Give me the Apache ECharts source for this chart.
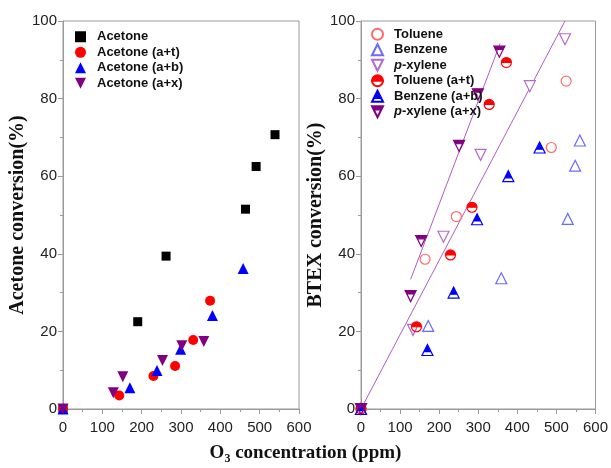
<!DOCTYPE html>
<html>
<head>
<meta charset="utf-8">
<script src="https://cdn.jsdelivr.net/npm/echarts@6/dist/echarts.min.js"></script>
<style>
html, body { margin: 0; padding: 0; background: #fff; }
#main { width: 611px; height: 468px; }
</style>
</head>
<body>
<div id="main"></div>
<script>
// left panel: acetone conversion vs O3 concentration
var acetone    = [[0, 0], [190, 22.5], [262, 39.4], [464, 51.5], [491, 62.5], [539, 70.7]];
var acetoneAT  = [[0, 0], [143, 3.5], [230, 8.5], [285, 11.1], [331, 17.8], [374, 27.9]];
var acetoneAB  = [[0, 0], [170, 5.5], [239, 9.9], [299, 15.4], [380, 24.1], [458, 36.2]];
var acetoneAX  = [[0, 0], [128, 4.2], [152, 8.3], [253, 12.5], [302, 16.3], [358, 17.4]];

// right panel: BTEX conversion
var toluene    = [[0, 0], [164, 38.6], [244, 49.6], [487, 67.4], [525, 84.5]];
var benzene    = [[0, 0], [172, 21.4], [359, 33.7], [529, 49], [548, 62.7], [560, 69.2]];
var pxylene    = [[0, 0], [133, 20.4], [211, 44.4], [306, 65.5], [432, 83.2], [522, 95.3]];
var tolueneAT  = [[0, 0], [142, 21.2], [229, 39.7], [284, 52], [328, 78.5], [372, 89.3]];
var benzeneAB  = [[0, 0], [170, 15.2], [237, 30], [297, 48.9], [377, 60], [457, 67.4]];
var pxyleneAX  = [[0, 0], [127, 29.1], [154, 43.3], [251, 67.8], [299, 81.1], [354, 92.1]];

// fitted lines
var fitLine1 = [[0, 0], [522, 100]];
var fitLine2 = [[127, 33.4], [356, 94.2]];

var leftNames  = ['Acetone', 'Acetone (a+t)', 'Acetone (a+b)', 'Acetone (a+x)'];
var rightNames = ['Toluene', 'Benzene', 'p-xylene', 'Toluene (a+t)', 'Benzene (a+b)', 'p-xylene (a+x)'];

// half filled symbols: outer shape clockwise, unfilled part counter-clockwise (nonzero rule)
var halfCircle = 'path://M0,-10 A10,10 0 1,1 0,10 A10,10 0 1,1 0,-10 Z M-10,0 A10,10 0 0,0 10,0 Z';
var halfTriUp  = 'path://M0,-10 L10,10 L-10,10 Z M-6.5,3 L-10,10 L10,10 L6.5,3 Z';
var halfTriDn  = 'path://M-10,-10 L10,-10 L0,10 Z M-7,-4 L0,10 L7,-4 Z';
var triDown    = 'path://M-10,-10 L10,-10 L0,10 Z';

var gray = '#9a9a9a';
var tickFont = { fontFamily: 'Liberation Sans', fontSize: 15, color: '#222' };
var titleFont = { fontFamily: 'Liberation Serif', fontSize: 20, fontWeight: 'bold', color: '#111' };

function xAx(idx) {
  return {
    gridIndex: idx, type: 'value', min: 0, max: 600, interval: 100,
    axisLine: { show: true, lineStyle: { color: gray } },
    axisTick: { show: true, length: 5, lineStyle: { color: gray } },
    minorTick: { show: true, splitNumber: 2, length: 3, lineStyle: { color: gray } },
    splitLine: { show: false },
    axisLabel: Object.assign({ margin: 11 }, tickFont)
  };
}
function yAx(idx, name) {
  return {
    gridIndex: idx, type: 'value', min: 0, max: 100, interval: 20,
    name: name, nameLocation: 'middle', nameGap: 31, nameTextStyle: titleFont,
    axisLine: { show: true, lineStyle: { color: gray } },
    axisTick: { show: true, length: 5, lineStyle: { color: gray } },
    minorTick: { show: true, splitNumber: 2, length: 3, lineStyle: { color: gray } },
    splitLine: { show: false },
    axisLabel: Object.assign({ margin: 6 }, tickFont)
  };
}
function sc(name, idx, data, symbol, size, fill, border) {
  return {
    name: name, type: 'scatter', xAxisIndex: idx, yAxisIndex: idx,
    data: data, symbol: symbol, symbolSize: size,
    itemStyle: { color: fill, opacity: 1, borderColor: border || fill, borderWidth: border ? 1.2 : 0 }
  };
}
function fit(data) {
  return {
    type: 'line', xAxisIndex: 1, yAxisIndex: 1, data: data,
    showSymbol: false, symbol: 'none', silent: true,
    lineStyle: { color: '#b05cc8', width: 1 }, z: 1
  };
}

var legendFont = { fontFamily: 'Liberation Sans', fontSize: 13, fontWeight: 'bold', color: '#111' };
var legendText = Object.assign({
  lineHeight: 15.5,
  rich: {
    g: { width: 6 },
    t: legendFont,
    i: Object.assign({ fontStyle: 'italic' }, legendFont)
  }
}, legendFont);
function legendLabel(n) {
  if (n.indexOf('p-') === 0) return '{g| }{i|p}{t|' + n.slice(1) + '}';
  return '{g| }{t|' + n + '}';
}

var chart = echarts.init(document.getElementById('main'));
chart.setOption({
  animation: false,
  backgroundColor: '#fff',
  grid: [
    { left: 63, top: 21, width: 236, height: 388, show: true, borderColor: gray, borderWidth: 1 },
    { left: 361, top: 21, width: 237, height: 388, show: true, borderColor: gray, borderWidth: 1 }
  ],
  xAxis: [xAx(0), xAx(1)],
  yAxis: [yAx(0, 'Acetone conversion(%)'), yAx(1, 'BTEX conversion(%)')],
  legend: [
    {
      data: leftNames, orient: 'vertical', left: 70, top: 24,
      itemWidth: 11, itemHeight: 11, itemGap: 0, textStyle: legendText, formatter: legendLabel
    },
    {
      data: rightNames, orient: 'vertical', left: 366, top: 21.5,
      itemWidth: 11, itemHeight: 11, itemGap: 0, textStyle: legendText, formatter: legendLabel
    }
  ],
  graphic: [{
    type: 'text', left: 'center', top: 444,
    style: {
      text: '{a|O}{s|3}{a| concentration (ppm)}',
      rich: {
        a: { fontFamily: 'Liberation Serif', fontSize: 19, fontWeight: 'bold', fill: '#111', lineHeight: 22 },
        s: { fontFamily: 'Liberation Serif', fontSize: 12, fontWeight: 'bold', fill: '#111', padding: [10, 0, 0, 0] }
      }
    }
  }],
  series: [
    sc('Acetone', 0, acetone, 'rect', 9, '#000'),
    sc('Acetone (a+t)', 0, acetoneAT, 'circle', 10, '#ff0000'),
    sc('Acetone (a+b)', 0, acetoneAB, 'triangle', 11, '#0000ff'),
    sc('Acetone (a+x)', 0, acetoneAX, triDown, 11, '#800080'),
    fit(fitLine1),
    fit(fitLine2),
    sc('Toluene', 1, toluene, 'circle', 10, '#fff', '#ff6a6a'),
    sc('Benzene', 1, benzene, 'triangle', 11, '#fff', '#6a6aff'),
    sc('p-xylene', 1, pxylene, triDown, 11, '#fff', '#b36ac9'),
    sc('Toluene (a+t)', 1, tolueneAT, halfCircle, 10, '#ff0000', '#ff0000'),
    sc('Benzene (a+b)', 1, benzeneAB, halfTriUp, 11, '#0000ff', '#0000ff'),
    sc('p-xylene (a+x)', 1, pxyleneAX, halfTriDn, 11, '#800080', '#800080')
  ]
});
</script>
</body>
</html>
